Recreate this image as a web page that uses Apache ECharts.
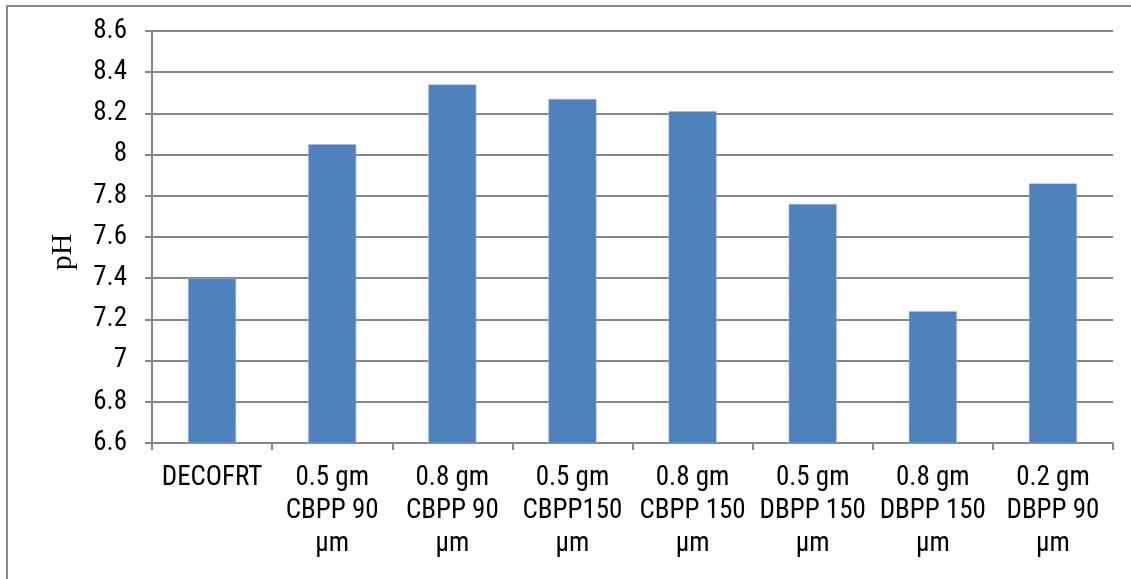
<!DOCTYPE html>
<html>
<head>
<meta charset="utf-8">
<script src="https://cdn.jsdelivr.net/npm/echarts@6/dist/echarts.min.js"></script>
<style>html,body{margin:0;padding:0;background:#fff}#c{width:1131px;height:579px}</style>
</head>
<body>
<div id="c"></div>
<script>
const categories = ["DECOFRT", "0.5 gm\nCBPP 90\nµm", "0.8 gm\nCBPP 90\nµm", "0.5 gm\nCBPP150\nµm", "0.8 gm\nCBPP 150\nµm", "0.5 gm\nDBPP 150\nµm", "0.8 gm\nDBPP 150\nµm", "0.2 gm\nDBPP 90\nµm"];
const phValues = [7.40, 8.05, 8.34, 8.27, 8.21, 7.76, 7.24, 7.86];
const yAxisName = "pH";

const chart = echarts.init(document.getElementById('c'), null, {renderer: 'canvas'});
const font = "'Liberation Sans Narrow', 'Roboto Condensed', 'Liberation Sans', sans-serif";
chart.setOption({
  animation: false,
  graphic: [{
    type: 'rect',
    shape: {x: 7, y: 6, width: 1140, height: 600},
    style: {fill: 'none', stroke: '#8a8a8a', lineWidth: 2},
    silent: true, z: -1
  }, {
    type: 'text',
    x: 63, y: 252,
    rotation: Math.PI / 2,
    style: {text: yAxisName, fontFamily: "'Liberation Serif', 'DejaVu Serif', serif", fontSize: 30, fill: '#000', align: 'center', verticalAlign: 'middle'},
    silent: true
  }],
  grid: {left: 152, right: 18, top: 31, bottom: 136, containLabel: false},
  xAxis: {
    type: 'category',
    data: categories,
    axisLine: {lineStyle: {color: '#868686', width: 2}},
    axisTick: {show: true, length: 7, alignWithLabel: false, lineStyle: {color: '#868686', width: 2}},
    axisLabel: {interval: 0, color: '#000', fontFamily: font, fontSize: 27, lineHeight: 33, margin: 19}
  },
  yAxis: {
    type: 'value',
    min: 6.6, max: 8.6, interval: 0.2,
    axisLine: {show: true, lineStyle: {color: '#868686', width: 2}},
    axisTick: {show: true, length: 7, lineStyle: {color: '#868686', width: 2}},
    axisLabel: {color: '#000', fontFamily: font, fontSize: 27, margin: 25,
      formatter: v => String(parseFloat(v.toFixed(1)))},
    splitLine: {show: true, lineStyle: {color: '#868686', width: 2}}
  },
  series: [{
    type: 'bar',
    data: phValues,
    barWidth: 48,
    itemStyle: {color: '#4F81BD', borderColor: '#A7BFDE', borderWidth: 0.5}
  }]
});
</script>
</body>
</html>
